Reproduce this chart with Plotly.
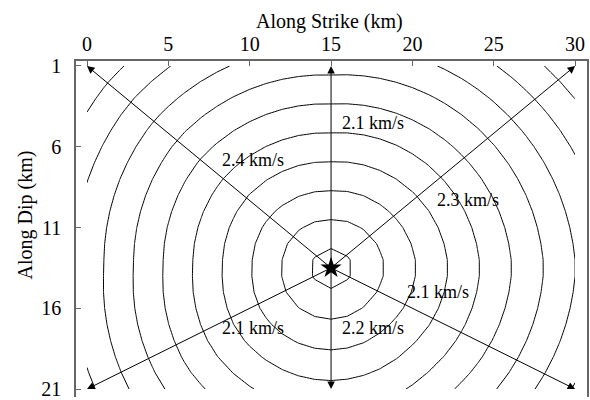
import numpy as np
import plotly.graph_objects as go

# ---- data ----
hypo_x = [15.0]
hypo_y = [13.5]
# arrow end points (along strike km, along dip km) and the rupture velocity along each
end_x = [0, 15, 30, 0, 15, 30]
end_y = [1, 1, 1, 21, 21, 21]
velocity = [2.4, 2.1, 2.3, 2.1, 2.2, 2.1]   # km/s
label_text = ["2.4 km/s", "2.1 km/s", "2.3 km/s", "2.1 km/s", "2.2 km/s", "2.1 km/s"]
label_x = [10.2, 17.6, 23.4, 10.2, 17.6, 21.6]
label_y = [6.8, 4.5, 9.3, 17.2, 17.2, 15.0]
x_ticks = [0, 5, 10, 15, 20, 25, 30]
y_ticks = [1, 6, 11, 16, 21]
# spacing between successive rupture-front contours, read from the picture by direction
# (direction measured counter-clockwise from +strike, with up-dip as +90 deg)
front_angle_deg = [0, 40, 90, 140, 180, 215, 270, 315]
front_step_km = [1.96, 1.88, 1.79, 1.85, 1.82, 1.90, 1.90, 1.88]
first_front = 0.67          # first contour, in contour steps from the hypocenter
grid_x = np.arange(0, 31, 1.0)     # km
grid_y = np.arange(1, 22, 1.0)     # km

# ---- rupture-front index field on the 1 km grid ----
x0, y0 = hypo_x[0], hypo_y[0]
GX, GY = np.meshgrid(grid_x, grid_y)
dx, dy = GX - x0, -(GY - y0)
theta = np.degrees(np.arctan2(dy, dx)) % 360
step = np.interp(theta, front_angle_deg, front_step_km, period=360)
F = np.hypot(dx, dy) / step

font = "Liberation Serif"
fig = go.Figure()
fig.add_trace(go.Contour(
    x=grid_x, y=grid_y, z=F,
    contours=dict(coloring="lines", start=first_front, end=12, size=1),
    colorscale=[[0, "black"], [1, "black"]], showscale=False,
    line=dict(width=1, smoothing=0), hoverinfo="skip"))
fig.add_trace(go.Scatter(x=hypo_x, y=hypo_y, mode="markers",
                         marker=dict(symbol="star", size=16, color="black"),
                         hoverinfo="skip", showlegend=False))

for ex, ey in zip(end_x, end_y):
    fig.add_annotation(x=ex, y=ey, ax=x0, ay=y0, xref="x", yref="y", axref="x", ayref="y",
                       text="", showarrow=True, arrowhead=2, arrowsize=1.5, arrowwidth=1,
                       arrowcolor="black", standoff=0)
for t, lx, ly in zip(label_text, label_x, label_y):
    fig.add_annotation(x=lx, y=ly, xref="x", yref="y", text=t, showarrow=False,
                       font=dict(family=font, size=18, color="black"))

fig.add_annotation(x=-0.098, y=0.543, xref="paper", yref="paper", text="Along Dip (km)",
                   xanchor="center", yanchor="middle",
                   textangle=-90, showarrow=False, font=dict(family=font, size=20, color="black"))
fig.add_annotation(x=0.497, y=1.118, xref="paper", yref="paper", text="Along Strike (km)",
                   xanchor="center", yanchor="middle",
                   showarrow=False, font=dict(family=font, size=20, color="black"))

fig.update_xaxes(side="top", range=[-0.676, 30.73], tickvals=x_ticks, ticks="inside",
                 ticklen=5, tickcolor="#666", showline=True, linecolor="#666", linewidth=1.5,
                 showgrid=False, zeroline=False, ticklabelstandoff=0, ticklabeloverflow="allow",
                 tickfont=dict(family=font, size=20, color="black"))
fig.update_yaxes(range=[21.49, 0.693], tickvals=y_ticks, ticks="inside", ticklen=5,
                 tickcolor="#666", showline=True, mirror=True, linecolor="#666", linewidth=1.5,
                 showgrid=False, zeroline=False, ticklabelstandoff=9, ticklabeloverflow="allow",
                 tickfont=dict(family=font, size=20, color="black"))
fig.update_layout(width=590, height=400, margin=dict(l=76, r=3, t=61, b=0),
                  plot_bgcolor="white", paper_bgcolor="white", showlegend=False)
fig.write_html("out.html", config={"displayModeBar": False},
               post_script="document.body.style.margin='0';document.body.style.overflow='hidden';")
